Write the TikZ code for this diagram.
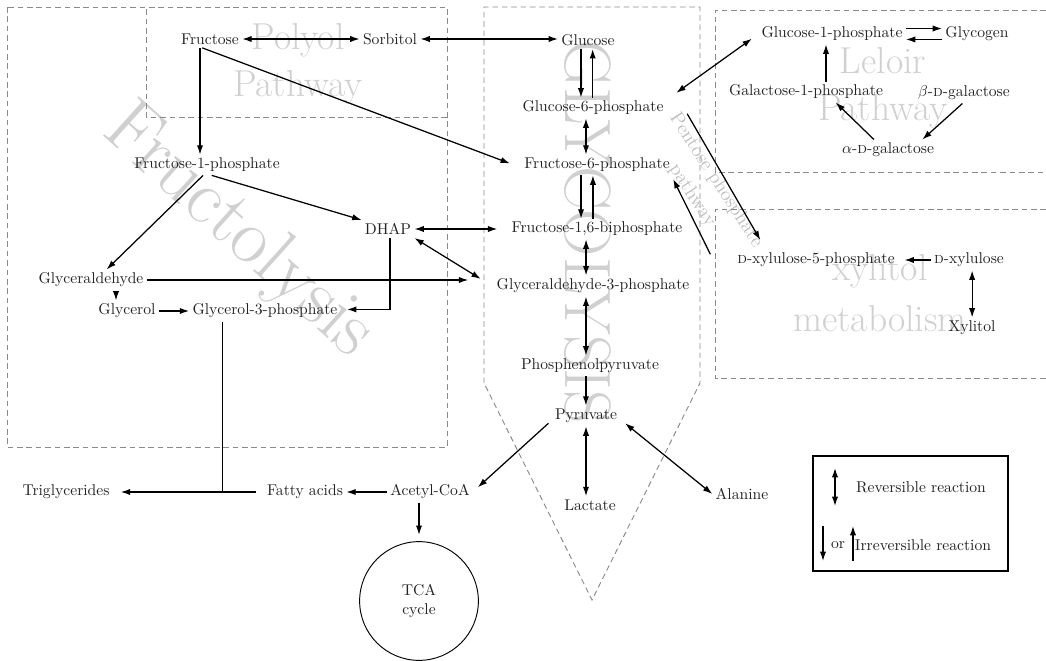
\documentclass[tikz,border=0pt]{standalone}
\usepackage{fontspec}
\usepackage{tikz}
\usetikzlibrary{arrows.meta}
\usepackage{amsmath}

\definecolor{wmgray}{HTML}{D0D0D0}
\definecolor{pentgray}{HTML}{BDBDBD}
\definecolor{boxgray}{HTML}{8A8A8A}
\definecolor{inkgray}{HTML}{222222}

\begin{document}
\begin{tikzpicture}[
    x=0.64pt, y=-0.64pt,
    metab/.style={inner sep=2pt, text=inkgray},
    watermark/.style={text=wmgray, align=center, font=\fontsize{24}{30}\selectfont},
    region/.style={draw=boxgray, dash pattern=on 3.6pt off 2.4pt, line width=0.6pt},
    arrow/.style={thick, ->, >={Latex[length=6pt,width=4pt]}},
    biarrow/.style={thick, <->, >={Latex[length=6pt,width=4pt]}},
    link/.style={thick}
]
\useasboundingbox (0,0) rectangle (1046,661);

\node (polyolwm)  [watermark] at (298,64)  {Polyol\\Pathway};
\node (leloirwm)  [watermark] at (883,88)  {Leloir\\Pathway};
\node (xylitolwm) [watermark, font=\fontsize{24}{33}\selectfont] at (880,293) {xylitol\\metabolism};
\node (fructwm)   [watermark, font=\fontsize{50}{56}\selectfont, rotate=-42] at (238,232) {Fructolysis};
\node (glycwm)    [watermark, font=\fontsize{42}{50}\selectfont, rotate=-90] at (588,232) {GLYCOLYSIS};
\node (pentwm)    [watermark, text=pentgray, font=\fontsize{12.5}{18}\selectfont, rotate=-57] at (704,188) {Pentose phosphate\\pathway};

\draw [region] (7,7) rectangle (447,447);
\draw [region] (447,117) -- (146,117) -- (146,7);
\draw [region] (484,383) -- (484,7) -- (700,7) -- (700,383) -- (592,600) -- cycle;
\draw [region] (1046,10) -- (715,10) -- (715,172) -- (1046,172);
\draw [region] (1046,209) -- (715,209) -- (715,378) -- (1046,378);

\node (fructose) [metab] at (210,39)  {Fructose};
\node (sorbitol) [metab] at (390,39)  {Sorbitol};
\node (glucose)  [metab] at (588,40)  {Glucose};
\node (g6p)      [metab] at (593,108) {Glucose-6-phosphate};
\node (f6p)      [metab] at (597,165) {Fructose-6-phosphate};
\node (f16bp)    [metab] at (597,229) {Fructose-1,6-biphosphate};
\node (g3p)      [metab] at (593,286) {Glyceraldehyde-3-phosphate};
\node (pep)      [metab] at (590,366) {Phosphenolpyruvate};
\node (pyruvate) [metab] at (586,416) {Pyruvate};
\node (lactate)  [metab] at (590,505) {Lactate};
\node (alanine)  [metab] at (742,494) {Alanine};
\node (f1p)      [metab] at (207,165) {Fructose-1-phosphate};
\node (dhap)     [metab] at (388,229) {DHAP};
\node (glyald)   [metab] at (91,280)  {Glyceraldehyde};
\node (glycerol) [metab] at (127,311) {Glycerol};
\node (gly3p)    [metab] at (265,311) {Glycerol-3-phosphate};
\node (trig)     [metab] at (66,492)  {Triglycerides};
\node (fatty)    [metab] at (305,492) {Fatty acids};
\node (acetyl)   [metab] at (430,492) {Acetyl-CoA};
\node (tca)      [metab, draw=black, circle, semithick, minimum size=76pt, align=center] at (419,601) {TCA\\cycle};
\node (g1p)      [metab] at (832,34)  {Glucose-1-phosphate};
\node (glycogen) [metab] at (977,34)  {Glycogen};
\node (gal1p)    [metab] at (806,92)  {Galactose-1-phosphate};
\node (bgal)     [metab] at (964,93)  {$\beta$-\textsc{d}-galactose};
\node (agal)     [metab] at (888,150) {$\alpha$-\textsc{d}-galactose};
\node (xu5p)     [metab] at (816,260) {\textsc{d}-xylulose-5-phosphate};
\node (xylulose) [metab] at (969,260) {\textsc{d}-xylulose};
\node (xylitol)  [metab] at (972,328) {Xylitol};

\draw [biarrow] (fructose) -- (sorbitol);
\draw [biarrow] (sorbitol) -- (sorbitol -| glucose.west);
\draw [arrow] ([xshift=-6.4pt]fructose.south) -- ([xshift=-6.4pt]fructose.south |- f1p.north);
\draw [arrow] ([xshift=-5pt]fructose.south) -- ([xshift=-7pt,yshift=1pt]f6p.west);
\draw [arrow] ([xshift=-4.5pt]glucose.south) -- ([xshift=-4.5pt]glucose.south |- g6p.north);
\draw [arrow] ([xshift=3pt]glucose.south |- g6p.north) -- ([xshift=3pt]glucose.south);
\draw [biarrow] ([xshift=-4.5pt]g6p.south) -- ([xshift=-4.5pt]g6p.south |- f6p.north);
\draw [arrow] ([xshift=-10.2pt]f6p.south) -- ([xshift=-10.2pt]f6p.south |- f16bp.north);
\draw [arrow] ([xshift=-2.6pt]f6p.south |- f16bp.north) -- ([xshift=-2.6pt]f6p.south);
\draw [biarrow] ([xshift=-7pt]f16bp.south) -- ([xshift=-7pt]f16bp.south |- g3p.north);
\draw [biarrow] ([xshift=-4.5pt]g3p.south) -- ([xshift=-4.5pt]g3p.south |- pep.north);
\draw [arrow] ([xshift=-2.6pt]pep.south) -- ([xshift=-2.6pt]pep.south |- pyruvate.north);
\draw [biarrow] (pyruvate.south) -- (pyruvate.south |- lactate.north);
\draw [biarrow] ([xshift=3pt,yshift=2pt]pyruvate.south east) -- (alanine.west);
\draw [arrow] ([xshift=-2pt,yshift=2pt]pyruvate.south west) -- ([xshift=3pt,yshift=3pt]acetyl.east);
\draw [arrow] (acetyl.west) -- (fatty.east);
\draw [arrow, shorten >=4pt] (acetyl.south -| tca.north) -- (tca.north);
\draw [arrow, shorten <=5pt, shorten >=5pt] (fatty.west) -- (trig.east);
\draw [link] ([xshift=-27pt]gly3p.south) -- ([xshift=-27pt]gly3p.south |- fatty.west);

\draw [arrow] ([xshift=-2.5pt]f1p.south) -- ([xshift=10pt]glyald.north);
\draw [arrow] ([xshift=3pt]f1p.south) -- (dhap.north west);
\draw [biarrow] (dhap.east) -- ([xshift=-7pt]f16bp.west);
\draw [biarrow] (dhap.south east) -- ([xshift=-8pt,yshift=4.5pt]g3p.west);
\draw [arrow, shorten >=16pt] (glyald.east) -- (glyald.east -| g3p.west);
\draw [arrow] ([xshift=16pt]glyald.south) -- ([xshift=16pt]glyald.south |- glycerol.north);
\draw [arrow] (glycerol.east) -- (gly3p.west);
\draw [arrow] ([xshift=1.3pt]dhap.south) |- ([xshift=4pt,yshift=1pt]gly3p.east);

\draw [biarrow] ([xshift=6pt,yshift=3pt]g6p.north east) -- ([xshift=-4pt,yshift=-3pt]g1p.west);
\draw [arrow] ([yshift=3.5pt]g1p.east) -- ([yshift=3.5pt]glycogen.west);
\draw [arrow] ([yshift=-3.5pt]glycogen.west) -- ([yshift=-3.5pt]g1p.east);
\draw [arrow] ([xshift=12.8pt]gal1p.north) -- ([xshift=12.8pt]gal1p.north |- g1p.south);
\draw [arrow] ([xshift=-9pt]agal.north) -- ([xshift=19pt]gal1p.south);
\draw [arrow] ([xshift=-1pt]bgal.south) -- ([xshift=22pt]agal.north);
\draw [arrow] ([xshift=13pt,yshift=3pt]g6p.south east) -- ([xshift=17pt,yshift=6pt]xu5p.north west);
\draw [arrow] ([xshift=-15pt,yshift=-3pt]xu5p.north west) -- ([yshift=-9pt]f6p.east);
\draw [arrow] (xylulose.west) -- ([xshift=4pt]xu5p.east);
\draw [biarrow] ([xshift=2pt]xylulose.south) -- ([xshift=2pt]xylulose.south |- xylitol.north);

\node (legend)   [draw=black, thick, minimum width=124.8pt, minimum height=73.6pt] at (910.5,513.5) {};
\node (revtext)  [metab] at (921,487) {Reversible reaction};
\node (irrtext)  [metab] at (923,545) {Irreversible reaction};
\node (ortext)   [metab] at (838,545) {or};
\coordinate (revtop)  at (835,468);
\coordinate (revbot)  at (835,506);
\coordinate (downtop) at (823,526);
\coordinate (downbot) at (823,561);
\coordinate (uptop)   at (853,526);
\coordinate (upbot)   at (853,561);
\draw [biarrow] (revtop) -- (revbot);
\draw [arrow] (downtop) -- (downbot);
\draw [arrow] (upbot) -- (uptop);
\end{tikzpicture}
\end{document}
